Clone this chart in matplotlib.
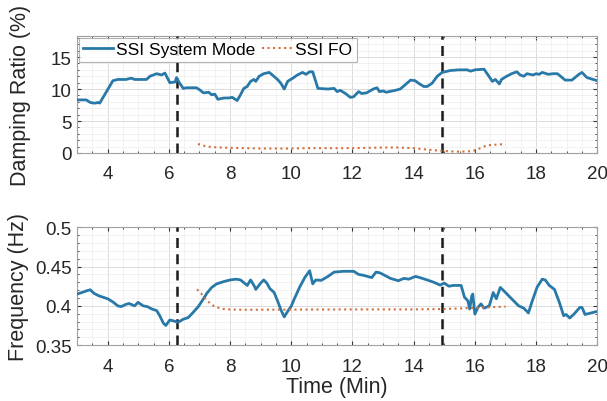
import numpy as np
import matplotlib
matplotlib.use("Agg")
import matplotlib.pyplot as plt
from matplotlib.ticker import MultipleLocator

plt.rcParams['font.family'] = ['Liberation Sans', 'DejaVu Sans']

# damping ratio, SSI system mode (time in min, value in %)
damp_t = [3.0, 3.08, 3.3, 3.43, 3.55, 3.6, 3.68, 3.74, 3.85, 4.17, 4.33, 4.6, 4.77, 4.88,
          5.05, 5.27, 5.38, 5.6, 5.76, 5.87, 6.03, 6.2, 6.25, 6.34, 6.47, 6.58, 6.9,
          7.0, 7.13, 7.3, 7.4, 7.5, 7.6, 7.8, 7.95, 8.07, 8.23, 8.34, 8.45, 8.56, 8.67,
          8.78, 8.84, 8.95, 9.1, 9.28, 9.38, 9.55, 9.66, 9.77, 9.88, 10.05, 10.2, 10.37,
          10.48, 10.6, 10.7, 10.87, 11.2, 11.4, 11.5, 11.6, 11.77, 11.93, 12.04, 12.2,
          12.3, 12.46, 12.68, 12.8, 12.88, 13.0, 13.1, 13.4, 13.56, 13.73, 13.9, 14.05,
          14.16, 14.33, 14.44, 14.6, 14.77, 14.93, 15.2, 15.48, 15.75, 15.86, 16.0, 16.3,
          16.43, 16.57, 16.67, 16.8, 16.87, 17.0, 17.2, 17.37, 17.48, 17.6, 17.7, 17.9,
          18.0, 18.1, 18.2, 18.4, 18.55, 18.7, 18.95, 19.17, 19.4, 19.5, 19.66, 20.0]
damp_ssi = [8.3, 8.3, 8.3, 7.9, 7.8, 7.8, 7.9, 7.8, 8.7, 11.3, 11.5, 11.5, 11.7, 11.5,
            11.5, 11.5, 12.0, 12.4, 12.2, 12.5, 11.0, 11.1, 11.8, 11.0, 10.1, 10.2, 10.2,
            9.9, 9.4, 9.5, 9.1, 9.2, 8.4, 8.6, 8.6, 8.7, 8.2, 9.1, 10.1, 10.4, 11.2,
            11.5, 11.2, 12.0, 12.4, 12.6, 12.2, 11.5, 10.9, 10.0, 11.2, 11.7, 12.2, 12.6,
            12.3, 12.7, 12.7, 10.1, 10.0, 10.1, 9.6, 9.8, 9.3, 8.7, 8.8, 9.6,
            9.3, 9.4, 10.0, 10.2, 9.6, 9.7, 9.5, 9.8, 10.0, 10.7, 11.4, 11.3,
            10.9, 10.4, 10.4, 10.9, 12.0, 12.6, 12.9, 13.0, 13.0, 12.8, 13.0, 13.1,
            12.2, 11.2, 11.5, 10.8, 11.5, 11.9, 12.4, 12.7, 12.2, 12.0, 12.4, 12.2,
            12.4, 12.3, 12.6, 12.3, 12.4, 12.4, 11.4, 11.4, 12.3, 12.6, 11.8, 11.3]

# damping ratio, SSI forced oscillation
fo_t = [6.95, 7.1, 7.25, 7.5, 8.0, 8.5, 9.0, 9.5, 10.0, 10.5, 11.0, 11.5, 12.0, 12.5,
        13.0, 13.5, 14.0, 14.3, 14.6, 14.9, 15.2, 15.5, 15.8, 16.0, 16.2, 16.4, 16.7, 17.0]
fo_damp = [1.4, 1.2, 1.0, 0.9, 0.8, 0.75, 0.7, 0.7, 0.7, 0.75, 0.75, 0.75, 0.75, 0.8,
           0.85, 0.85, 0.75, 0.6, 0.45, 0.35, 0.25, 0.2, 0.25, 0.4, 0.8, 1.2, 1.3, 1.4]

# frequency, SSI system mode (Hz)
freq_t = [3.0, 3.08, 3.3, 3.43, 3.55, 3.7, 3.85, 4.0, 4.17, 4.33, 4.44, 4.6, 4.7, 4.88,
          4.99, 5.16, 5.3, 5.44, 5.6, 5.7, 5.82, 5.9, 6.03, 6.14, 6.3, 6.47, 6.63, 6.8,
          6.96, 7.13, 7.24, 7.4, 7.56, 7.8, 8.0, 8.2, 8.34, 8.5, 8.56, 8.67, 8.78, 8.84,
          9.0, 9.1, 9.2, 9.3, 9.44, 9.55, 9.66, 9.77, 9.88, 9.99, 10.1, 10.27, 10.44,
          10.6, 10.7, 10.8, 10.98, 11.2, 11.4, 11.7, 12.04, 12.2, 12.35, 12.63, 12.77,
          12.9, 13.24, 13.5, 13.68, 13.84, 14.06, 14.2, 14.44, 14.66, 14.86, 15.0, 15.15,
          15.3, 15.55, 15.66, 15.77, 15.83, 15.9, 15.93, 16.0, 16.1, 16.2, 16.3, 16.47,
          16.6, 16.7, 16.83, 17.0, 17.2, 17.43, 17.6, 17.75, 17.86, 18.03, 18.2, 18.3,
          18.43, 18.6, 18.76, 18.9, 18.98, 19.1, 19.25, 19.43, 19.5, 19.6, 19.8, 20.0]
freq_ssi = [0.415, 0.416, 0.419, 0.4205, 0.416, 0.413, 0.411, 0.409, 0.405, 0.400, 0.399,
            0.402, 0.403, 0.400, 0.4045, 0.400, 0.399, 0.396, 0.394, 0.3875, 0.378, 0.375,
            0.382, 0.381, 0.379, 0.383, 0.385, 0.392, 0.399, 0.409, 0.416, 0.4235, 0.428,
            0.431, 0.433, 0.434, 0.433, 0.428, 0.426, 0.433, 0.426, 0.421, 0.429, 0.433,
            0.429, 0.422, 0.417, 0.4065, 0.395, 0.386, 0.393, 0.399, 0.409, 0.4235, 0.436,
            0.4447, 0.428, 0.433, 0.4325, 0.4375, 0.443, 0.444, 0.444, 0.440, 0.439, 0.436,
            0.443, 0.442, 0.435, 0.432, 0.435, 0.434, 0.4375, 0.436, 0.433, 0.430, 0.4265,
            0.429, 0.425, 0.426, 0.426, 0.411, 0.4065, 0.396, 0.413, 0.415, 0.3895, 0.398,
            0.4025, 0.397, 0.400, 0.417, 0.409, 0.4235, 0.417, 0.409, 0.400, 0.397, 0.391,
            0.4045, 0.4235, 0.434, 0.433, 0.426, 0.421, 0.4045, 0.3875, 0.389, 0.3845,
            0.390, 0.398, 0.398, 0.389, 0.391, 0.393]

# frequency, SSI forced oscillation
fo_freq_t = [6.92, 7.05, 7.2, 7.35, 7.5, 7.7, 7.9, 8.5, 10.0, 12.0, 14.0, 15.0, 16.0, 17.0]
fo_freq = [0.421, 0.416, 0.409, 0.403, 0.399, 0.3965, 0.3955, 0.395, 0.3952, 0.3955,
           0.3955, 0.396, 0.3975, 0.399]

events = [6.28, 14.92]

blue = '#2878a8'
orange = '#d2703c'
txt = '#262626'

fig = plt.figure(figsize=(6.07, 4.02), dpi=100)
ax1 = fig.add_axes([0.127, 0.617, 0.857, 0.291])
ax2 = fig.add_axes([0.127, 0.139, 0.857, 0.293])


def style(ax):
    ax.set_xlim(3, 20)
    ax.xaxis.set_major_locator(MultipleLocator(2))
    ax.xaxis.set_minor_locator(MultipleLocator(0.5))
    ax.grid(True, which='major', color='#dcdcdc', lw=0.7)
    ax.grid(True, which='minor', color='#ededed', lw=0.5)
    ax.set_axisbelow(True)
    ax.tick_params(which='both', direction='in', top=True, right=True,
                   labelsize=13.5, colors='#333333', labelcolor=txt)
    ax.tick_params(which='major', length=3)
    ax.tick_params(which='minor', length=1.5)
    ax.tick_params(axis='x', pad=9)
    ax.tick_params(axis='y', pad=4)
    for s in ax.spines.values():
        s.set_color('#a0a0a0')
        s.set_linewidth(0.8)
    for e in events:
        ax.axvline(e, color='#1a1a1a', ls=(0, (4, 2.5)), lw=1.8, zorder=3)


ax1.plot(damp_t, damp_ssi, color=blue, lw=2, label='SSI System Mode', zorder=4)
ax1.plot(fo_t, fo_damp, color=orange, lw=1.5, ls=':', label='SSI FO', zorder=4)
style(ax1)
ax1.set_ylim(0, 18.3)
ax1.yaxis.set_major_locator(MultipleLocator(5))
ax1.yaxis.set_minor_locator(MultipleLocator(1))
ax1.set_ylabel('Damping Ratio (%)', fontsize=15.5, color=txt)
ax1.yaxis.set_label_coords(-0.088, 0.5)
leg = ax1.legend(loc='upper left', bbox_to_anchor=(0, 1), borderaxespad=0.1, ncol=2,
                 fontsize=12.5, frameon=True, fancybox=False, handlelength=1.7,
                 handletextpad=0.2, columnspacing=0.4, borderpad=0.25)
leg.get_frame().set_edgecolor('#a0a0a0')
leg.get_frame().set_linewidth(0.8)
leg.set_zorder(5)

ax2.plot(freq_t, freq_ssi, color=blue, lw=2, zorder=4)
ax2.plot(fo_freq_t, fo_freq, color=orange, lw=1.5, ls=':', zorder=4)
style(ax2)
ax2.set_ylim(0.35, 0.5)
ax2.yaxis.set_minor_locator(MultipleLocator(0.01))
ax2.set_yticks([0.35, 0.4, 0.45, 0.5])
ax2.set_yticklabels(['0.35', '0.4', '0.45', '0.5'])
ax2.set_ylabel('Frequency (Hz)', fontsize=15.5, color=txt)
ax2.yaxis.set_label_coords(-0.092, 0.5)
ax2.set_xlabel('Time (Min)', fontsize=15.5, color=txt)
ax2.xaxis.set_label_coords(0.5, -0.265)

fig.savefig('out.png', dpi=100)
